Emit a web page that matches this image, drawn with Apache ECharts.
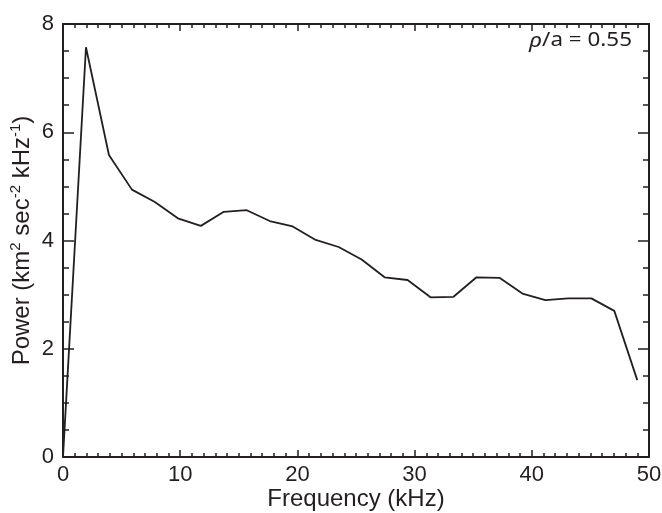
<!DOCTYPE html>
<html>
<head>
<meta charset="utf-8">
<script src="https://cdn.jsdelivr.net/npm/echarts@6/dist/echarts.min.js"></script>
<style>html,body{margin:0;padding:0;background:#fff}#c{width:662px;height:513px}</style>
</head>
<body>
<div id="c"></div>
<script>
var frequency = [0, 1.96, 3.92, 5.88, 7.84, 9.8, 11.76, 13.72, 15.68, 17.64, 19.6, 21.56, 23.52, 25.48, 27.44, 29.4, 31.36, 33.32, 35.28, 37.24, 39.2, 41.16, 43.12, 45.08, 47.04, 49.0];
var power = [0, 7.57, 5.58, 4.94, 4.71, 4.41, 4.27, 4.53, 4.56, 4.36, 4.26, 4.01, 3.88, 3.65, 3.32, 3.27, 2.95, 2.96, 3.32, 3.31, 3.02, 2.90, 2.93, 2.93, 2.70, 1.42];
var xTicks = [0, 10, 20, 30, 40, 50];
var yTicks = [0, 2, 4, 6, 8];

var ink = '#231f20';
var font = '"Liberation Sans", Arial, sans-serif';
var chart = echarts.init(document.getElementById('c'), null, {renderer: 'canvas'});
var data = frequency.map(function (f, i) { return [f, power[i]]; });

function xAx(pos, showLabel) {
  return {
    type: 'value', position: pos, min: xTicks[0], max: xTicks[xTicks.length - 1], interval: 10,
    axisLine: {show: true, onZero: false, lineStyle: {color: ink, width: 2}},
    axisTick: {show: true, inside: true, length: 7, lineStyle: {color: ink, width: 1.5}},
    minorTick: {show: true, splitNumber: 10, length: 4, lineStyle: {color: ink, width: 1.5}},
    splitLine: {show: false},
    axisLabel: {show: showLabel, color: ink, fontSize: 22, fontFamily: font, margin: 7},
    name: showLabel ? 'Frequency (kHz)' : '',
    nameLocation: 'middle', nameGap: 30, nameMoveOverlap: false,
    nameTextStyle: {color: ink, fontSize: 24, fontFamily: font, verticalAlign: 'top'}
  };
}
function yAx(pos, showLabel) {
  return {
    type: 'value', position: pos, min: yTicks[0], max: yTicks[yTicks.length - 1], interval: 2,
    axisLine: {show: true, onZero: false, lineStyle: {color: ink, width: 2}},
    axisTick: {show: true, inside: true, length: 11, lineStyle: {color: ink, width: 1.5}},
    minorTick: {show: true, splitNumber: 4, length: 6, lineStyle: {color: ink, width: 1.5}},
    splitLine: {show: false},
    axisLabel: {show: showLabel, color: ink, fontSize: 22, fontFamily: font, margin: 9},
    name: showLabel ? '{n|Power (km}{s|2}{n| sec}{s|-2}{n| kHz}{s|-1}{n|)}' : '',
    nameLocation: 'middle', nameGap: 29, nameMoveOverlap: false,
    nameTextStyle: {
      color: ink, fontSize: 24, fontFamily: font,
      rich: {
        n: {fontSize: 24, fontFamily: font, color: ink, lineHeight: 26, verticalAlign: 'bottom'},
        s: {fontSize: 15, fontFamily: font, color: ink, lineHeight: 26, verticalAlign: 'top', padding: [0, 0, 9, 0]}
      }
    }
  };
}

chart.setOption({
  animation: false,
  backgroundColor: '#fff',
  grid: {left: 63, right: 13, top: 24, bottom: 56, containLabel: false, outerBoundsMode: 'none'},
  xAxis: [xAx('bottom', true), xAx('top', false)],
  yAxis: [yAx('left', true), yAx('right', false)],
  graphic: [{
    type: 'text', x: 632, y: 41, scaleX: 1.18, originX: 0, originY: 0,
    style: {
      text: '{i|ρ}{n|/a = 0.55}',
      align: 'right', verticalAlign: 'middle',
      rich: {
        i: {fontStyle: 'italic', fontSize: 20, fontFamily: '"Noto Sans", "Open Sans", sans-serif', fill: ink},
        n: {fontSize: 19, fontFamily: '"Noto Sans", "Open Sans", sans-serif', fill: ink}
      }
    }
  }],
  series: [{
    type: 'line', data: data, showSymbol: false, symbol: 'none',
    lineStyle: {color: ink, width: 1.8}, xAxisIndex: 0, yAxisIndex: 0
  }]
});
</script>
</body>
</html>
